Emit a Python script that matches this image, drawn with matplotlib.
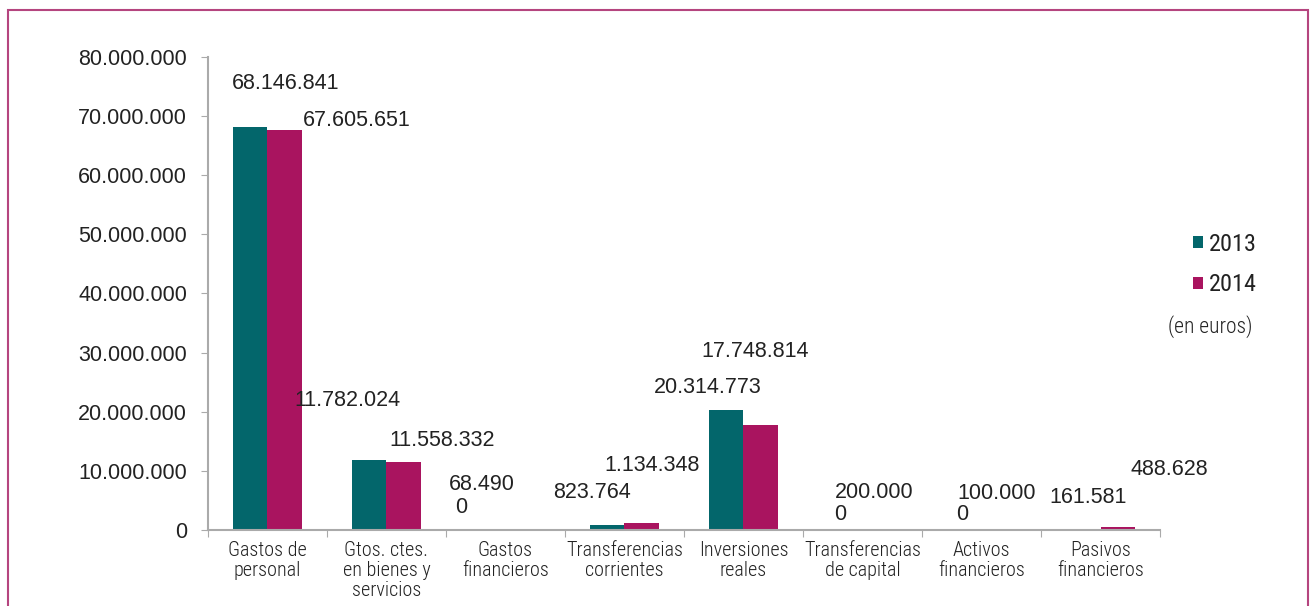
import numpy as np
import matplotlib
matplotlib.use('Agg')
import matplotlib.pyplot as plt
from matplotlib.patches import Rectangle

categories = ['Gastos de\npersonal', 'Gtos. ctes.\nen bienes y\nservicios', 'Gastos\nfinancieros',
              'Transferencias\ncorrientes', 'Inversiones\nreales', 'Transferencias\nde capital',
              'Activos\nfinancieros', 'Pasivos\nfinancieros']
values_2013 = [68146841, 11782024, 68490, 823764, 20314773, 200000, 100000, 161581]
values_2014 = [67605651, 11558332, 0, 1134348, 17748814, 0, 0, 488628]
y_ticks = [0, 10000000, 20000000, 30000000, 40000000, 50000000, 60000000, 70000000, 80000000]

# label offsets in pixels from the top of each bar (Excel-style placement)
off_2013 = [(35, 44), (-22, 60), (-6, 45), (-15, 33), (-18, 22), (29, 36), (32, 36), (5, 32)]
off_2014 = [(72, 10), (38, 21), (-62, 23), (10, 58), (-6, 74), (-40, 16), (-37, 16), (52, 58)]

TEAL = '#03666b'
MAGENTA = '#a9145f'
TXT = '#222222'
narrow = ['Roboto Condensed', 'Archivo Narrow', 'Barlow Semi Condensed', 'Roboto', 'DejaVu Sans']
plt.rcParams['font.family'] = ['Liberation Sans', 'DejaVu Sans']


def fmt(v):
    return f'{v:,}'.replace(',', '.')


fig = plt.figure(figsize=(13.16, 6.06), dpi=100)
ax = fig.add_axes([0.158, 0.1254, 0.7235, 0.7806])

x = np.arange(len(categories))
w = 0.29
b1 = ax.bar(x - w / 2, values_2013, w, color=TEAL, label='2013')
b2 = ax.bar(x + w / 2, values_2014, w, color=MAGENTA, label='2014')

ax.set_xlim(-0.5, len(categories) - 0.5)
ax.set_ylim(0, 80000000)
ax.set_yticks(y_ticks)
ax.set_yticklabels([fmt(v) for v in y_ticks], fontsize=15.5, color=TXT)
ax.set_xticks(np.arange(-0.5, len(categories), 1.0))
ax.set_xticklabels([])
ax.set_xticks(x, minor=True)
ax.set_xticklabels(categories, minor=True, fontsize=14.5, color=TXT, family=narrow,
                   weight='light', linespacing=1.05)
ax.tick_params(axis='x', which='minor', length=0, pad=8)
ax.tick_params(axis='x', which='major', length=5, color='#aaaaaa')
ax.tick_params(axis='y', length=5, color='#aaaaaa', pad=10)
for s in ['top', 'right']:
    ax.spines[s].set_visible(False)
for s in ['left', 'bottom']:
    ax.spines[s].set_color('#aaaaaa')
    ax.spines[s].set_linewidth(1.5)

px = 72 / fig.dpi
for bars, vals, offs in [(b1, values_2013, off_2013), (b2, values_2014, off_2014)]:
    for bar, v, (dx, dy) in zip(bars, vals, offs):
        ax.annotate(fmt(v), (bar.get_x() + bar.get_width() / 2, v),
                    xytext=(dx * px, dy * px), textcoords='offset points',
                    ha='center', va='center', fontsize=15.5, color=TXT)

leg = ax.legend(handles=[b1, b2], loc='center left', bbox_to_anchor=(1.012, 0.561),
                frameon=False, handlelength=0.4, handleheight=0.4, handletextpad=0.25,
                labelspacing=0.72, prop={'family': narrow, 'size': 17.5})
for t in leg.get_texts():
    t.set_color(TXT)
fig.text(1252 / 1316, 1 - 327 / 606, '(en euros)', ha='right', va='center',
         fontsize=15.5, color=TXT, family=narrow, weight='light')

fig.patches.append(Rectangle((8 / 1316, -0.1), 1300 / 1316, 1.1 - 10 / 606,
                             transform=fig.transFigure, fill=False,
                             edgecolor='#b5457f', linewidth=1.5))

fig.savefig('out.png', dpi=100)
